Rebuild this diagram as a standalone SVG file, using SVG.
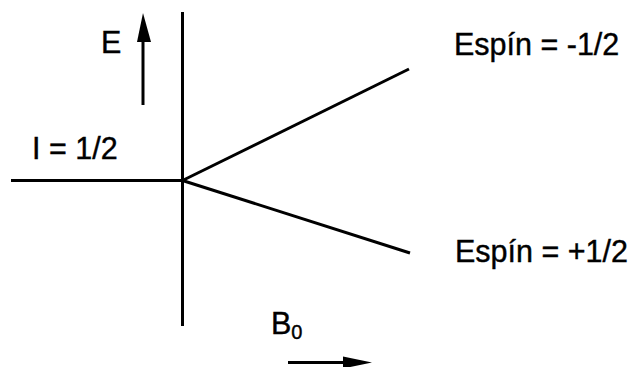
<svg xmlns="http://www.w3.org/2000/svg" width="634" height="367" viewBox="0 0 634 367">
<style>
.ln{stroke:#000;stroke-width:3;fill:none;stroke-linecap:butt}
.t{font-family:"Liberation Sans",Arial,sans-serif;font-size:30.5px;fill:#000;stroke:#000;stroke-width:0.4}
.ah{fill:#000}
</style>
<rect width="634" height="367" fill="#fff"/>
<g id="connectors">
<line class="ln" x1="182.5" y1="12" x2="182.5" y2="326"/>
<line class="ln" x1="11" y1="180.5" x2="182.5" y2="180.5"/>
<line class="ln" x1="182.5" y1="180.5" x2="409" y2="69"/>
<line class="ln" x1="182.5" y1="180.5" x2="410" y2="253"/>
</g>
<g id="arrow-E">
<line class="ln" x1="143" y1="105" x2="143" y2="38"/>
<polygon class="ah" points="143,13 137,42 151,42"/>
</g>
<g id="arrow-B0">
<line class="ln" x1="288" y1="362.5" x2="350" y2="362.5"/>
<polygon class="ah" points="372,362.5 343,356.5 343,368.5"/>
</g>
<g id="label-E"><text class="t" x="101" y="53">E</text></g>
<g id="label-up"><text class="t" x="454" y="55">Espín = -1/2</text></g>
<g id="label-I"><text class="t" x="32" y="159">I = 1/2</text></g>
<g id="label-down"><text class="t" x="455" y="262">Espín = +1/2</text></g>
<g id="label-B0"><text class="t" x="271" y="334">B<tspan font-size="20" dy="5">0</tspan></text></g>
</svg>
